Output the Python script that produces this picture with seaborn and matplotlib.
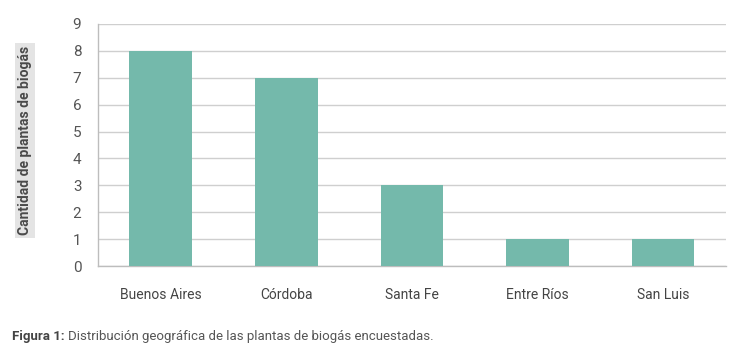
import pandas as pd
import numpy as np
import seaborn as sns
import matplotlib.pyplot as plt

provincias=['Buenos Aires','Córdoba','Santa Fe','Entre Ríos','San Luis']
plantas=[8,7,3,1,1]
df=pd.DataFrame({'provincia':provincias,'plantas':plantas})

sns.set_style('white')
plt.rcParams['font.family']=['Roboto','DejaVu Sans']

fig=plt.figure(figsize=(7.5,3.51),dpi=100)
ax=fig.add_axes([0.1307,0.242,0.837,0.69])
sns.barplot(data=df,x='provincia',y='plantas',color='#74b9ab',saturation=1,width=0.5,
            linewidth=0,ax=ax,zorder=3)

ax.set_ylim(0,9)
ax.set_xlim(-0.5,4.5)
ax.set_yticks(range(0,10))
ax.yaxis.grid(True,color='#cfcfcf',linewidth=1,zorder=0)
ax.set_axisbelow(True)
for s in ['top','right']:
    ax.spines[s].set_visible(False)
for s in ['left','bottom']:
    ax.spines[s].set_color('#bdbdbd')
    ax.spines[s].set_linewidth(1)
ax.tick_params(axis='y',length=6,color='#bdbdbd',labelsize=11,labelcolor='#555555',pad=6)
ax.tick_params(axis='x',which='major',length=0,labelsize=10,labelcolor='#444444',pad=16)
ax.set_xticks(np.arange(-0.5,5,1),minor=True)
ax.tick_params(axis='x',which='minor',length=5,color='#bdbdbd')
ax.set_xlabel('')
ax.set_ylabel('')

fig.text(0.033,0.60,'Cantidad de plantas de biogás',rotation=90,ha='center',va='center',
         fontsize=10,fontweight='bold',color='#4a4a4a',
         bbox=dict(facecolor='#e4e4e4',edgecolor='none',pad=2))

t1=fig.text(0.016,0.03,'Figura 1:',fontsize=9.5,fontweight='bold',color='#444444',va='baseline')
fig.canvas.draw()
bb=t1.get_window_extent()
x2=fig.transFigure.inverted().transform((bb.x1+3,bb.y0))[0]
fig.text(x2,0.03,'Distribución geográfica de las plantas de biogás encuestadas.',fontsize=9.5,color='#555555',va='baseline')

fig.savefig('out.png',dpi=100)
